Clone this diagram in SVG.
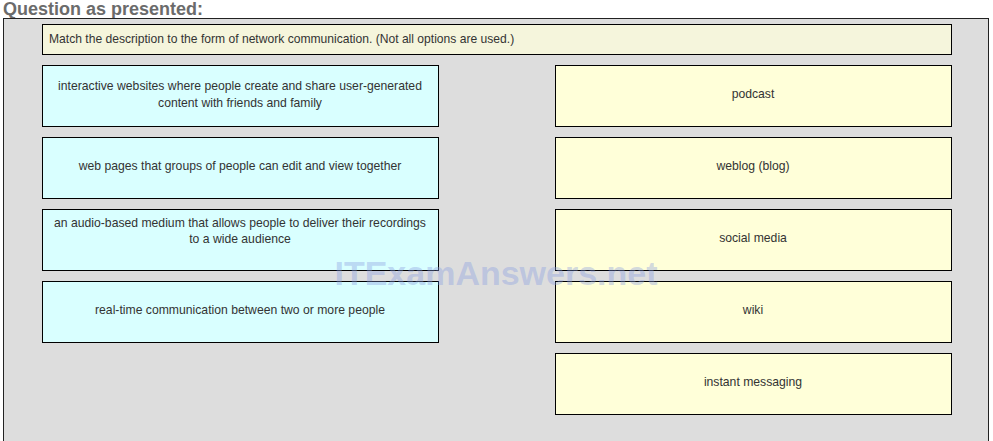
<svg xmlns="http://www.w3.org/2000/svg" width="993" height="441" viewBox="0 0 993 441">
<style>
.t{font-family:"Liberation Sans",Arial,sans-serif;font-size:12.2px;fill:#333;text-anchor:middle}
.l{fill:#D9FFFF;stroke:#000;stroke-width:1}
.r{fill:#FFFFD9;stroke:#000;stroke-width:1}
</style>
<rect width="993" height="441" fill="#fff"/>
<text x="3" y="14.5" style="font-family:'Liberation Sans',Arial,sans-serif;font-size:18px;font-weight:bold;fill:#6b6b6b">Question as presented:</text>
<rect id="panel" x="3.5" y="18.5" width="985" height="430" fill="#DDDDDD" stroke="#222" stroke-width="1"/>
<g id="instruction">
<rect x="42.5" y="24.5" width="909" height="30" fill="#F5F5DC" stroke="#000"/>
<text x="49" y="43" style="font-family:'Liberation Sans',Arial,sans-serif;font-size:12.1px;fill:#333">Match the description to the form of network communication. (Not all options are used.)</text>
</g>
<g id="d1"><rect class="l" x="42.5" y="65.5" width="396" height="61"/><text class="t" x="240" y="90">interactive websites where people create and share user-generated</text><text class="t" x="240" y="107">content with friends and family</text></g>
<g id="d2"><rect class="l" x="42.5" y="137.5" width="396" height="61"/><text class="t" x="240" y="170">web pages that groups of people can edit and view together</text></g>
<g id="d3"><rect class="l" x="42.5" y="209.5" width="396" height="61"/><text class="t" x="240" y="227">an audio-based medium that allows people to deliver their recordings</text><text class="t" x="240" y="243">to a wide audience</text></g>
<g id="d4"><rect class="l" x="42.5" y="281.5" width="396" height="61"/><text class="t" x="240" y="314">real-time communication between two or more people</text></g>
<g id="o1"><rect class="r" x="555.5" y="65.5" width="396" height="61"/><text class="t" x="753" y="98">podcast</text></g>
<g id="o2"><rect class="r" x="555.5" y="137.5" width="396" height="61"/><text class="t" x="753" y="170">weblog (blog)</text></g>
<g id="o3"><rect class="r" x="555.5" y="209.5" width="396" height="61"/><text class="t" x="753" y="242">social media</text></g>
<g id="o4"><rect class="r" x="555.5" y="281.5" width="396" height="61"/><text class="t" x="753" y="314">wiki</text></g>
<g id="o5"><rect class="r" x="555.5" y="353.5" width="396" height="61"/><text class="t" x="753" y="386">instant messaging</text></g>
<g id="connectors"></g>
<text x="496" y="285" style="font-family:'Liberation Sans',Arial,sans-serif;font-size:34px;font-weight:bold;fill:#8a9ee0;fill-opacity:0.4;text-anchor:middle">ITExamAnswers.net</text>
</svg>
